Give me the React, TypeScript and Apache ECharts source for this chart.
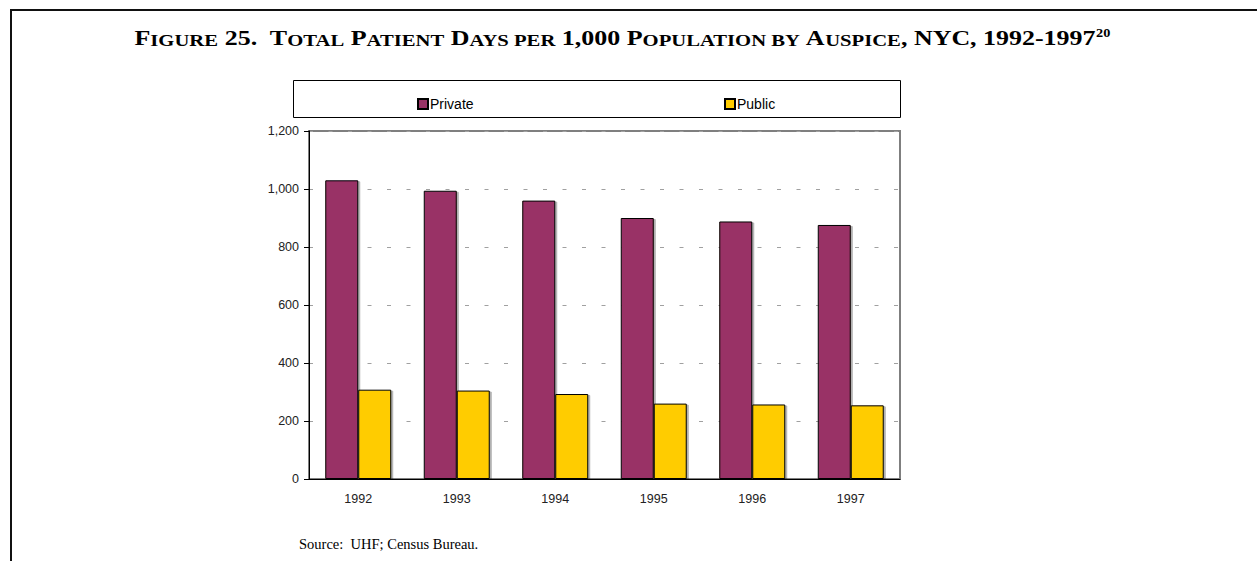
import React, { useEffect, useRef } from "react";
import * as echarts from "echarts";

const years = ["1992", "1993", "1994", "1995", "1996", "1997"];
const privateDays = [1030, 994, 960, 900, 888, 876];
const publicDays = [308, 305, 293, 260, 257, 254];
const yTicks = { min: 0, max: 1200, interval: 200 };

export default function App() {
  const ref = useRef<HTMLDivElement>(null);
  useEffect(() => {
    const chart = echarts.init(ref.current!, null, { renderer: "svg" });
    const sans = "Liberation Sans, Arial, sans-serif";
    const serif = "Liberation Serif, Times New Roman, serif";
    const barStyle = (color: string) => ({
      color,
      borderColor: "#000",
      borderWidth: 1,
      shadowColor: "rgba(0,0,0,0.3)",
      shadowOffsetX: 2,
      shadowOffsetY: 1,
      shadowBlur: 0,
    });
    const legendText = { fontFamily: sans, fontSize: 14, color: "#000", padding: [0, 0, 0, -3] };
    chart.setOption({
      animation: false,
      backgroundColor: "#fff",
      legend: [
        {
          data: ["Private"],
          left: 412,
          top: 92,
          icon: "rect",
          itemWidth: 10,
          itemHeight: 10,
          itemGap: 4,
          textStyle: legendText,
        },
        {
          data: ["Public"],
          left: 719,
          top: 92,
          icon: "rect",
          itemWidth: 10,
          itemHeight: 10,
          itemGap: 4,
          textStyle: legendText,
        },
      ],
      grid: {
        left: 309,
        right: 357,
        top: 131,
        bottom: 82,
        show: true,
        borderColor: "#7f7f7f",
        borderWidth: 2,
        backgroundColor: "transparent",
      },
      xAxis: {
        type: "category",
        data: years,
        axisLine: { lineStyle: { color: "#000", width: 1 } },
        axisTick: { length: 5, lineStyle: { color: "#000" } },
        axisLabel: { fontFamily: sans, fontSize: 12.5, color: "#222", margin: 13 },
      },
      yAxis: {
        type: "value",
        min: yTicks.min,
        max: yTicks.max,
        interval: yTicks.interval,
        axisLine: { show: true, lineStyle: { color: "#000", width: 1 } },
        axisTick: { show: true, length: 5, lineStyle: { color: "#000" } },
        axisLabel: {
          fontFamily: sans,
          fontSize: 12.5,
          color: "#222",
          margin: 10,
          formatter: (v: number) => v.toLocaleString("en-US"),
        },
        splitLine: {
          show: true,
          lineStyle: { color: "#a0a0a0", type: [4, 15.5], width: 1 },
        },
      },
      series: [
        {
          name: "Private",
          type: "bar",
          data: privateDays,
          barGap: "0%",
          barCategoryGap: "33%",
          itemStyle: barStyle("#993366"),
        },
        {
          name: "Public",
          type: "bar",
          data: publicDays,
          barGap: "0%",
          barCategoryGap: "33%",
          itemStyle: barStyle("#ffcc00"),
        },
      ],
      graphic: [
        {
          type: "text",
          x: 615,
          y: 38,
          scaleX: 1.18,
          style: {
            text:
              "F{s|IGURE} 25.  T{s|OTAL} P{s|ATIENT} D{s|AYS PER} 1,000 P{s|OPULATION BY} A{s|USPICE}, NYC, 1992-1997",
            align: "center",
            verticalAlign: "middle",
            fontFamily: serif,
            fontWeight: "bold",
            fontSize: 22,
            fill: "#000",
            rich: {
              s: { fontFamily: serif, fontWeight: "bold", fontSize: 17.5, fill: "#000", verticalAlign: "bottom" },
            },
          },
        },
        {
          type: "text",
          x: 1096,
          y: 26,
          scaleX: 1.1,
          style: {
            text: "20",
            align: "left",
            verticalAlign: "top",
            fontFamily: serif,
            fontWeight: "bold",
            fontSize: 13,
            fill: "#000",
          },
        },
        {
          type: "line",
          shape: { x1: 10, y1: 10, x2: 1257, y2: 10 },
          style: { stroke: "#111", lineWidth: 2 },
        },
        {
          type: "line",
          shape: { x1: 11, y1: 9, x2: 11, y2: 561 },
          style: { stroke: "#111", lineWidth: 2 },
        },
        {
          type: "rect",
          shape: { x: 293.5, y: 80.5, width: 607, height: 37 },
          style: { fill: "none", stroke: "#000", lineWidth: 1 },
        },
        {
          type: "text",
          left: 299,
          top: 536,
          style: {
            text: "Source:  UHF; Census Bureau.",
            fontFamily: serif,
            fontSize: 14.5,
            fill: "#000",
          },
        },
      ],
    });
    return () => chart.dispose();
  }, []);
  return (
    <div
      ref={ref}
      style={{ position: "fixed", left: 0, top: 0, width: 1257, height: 561 }}
    />
  );
}
